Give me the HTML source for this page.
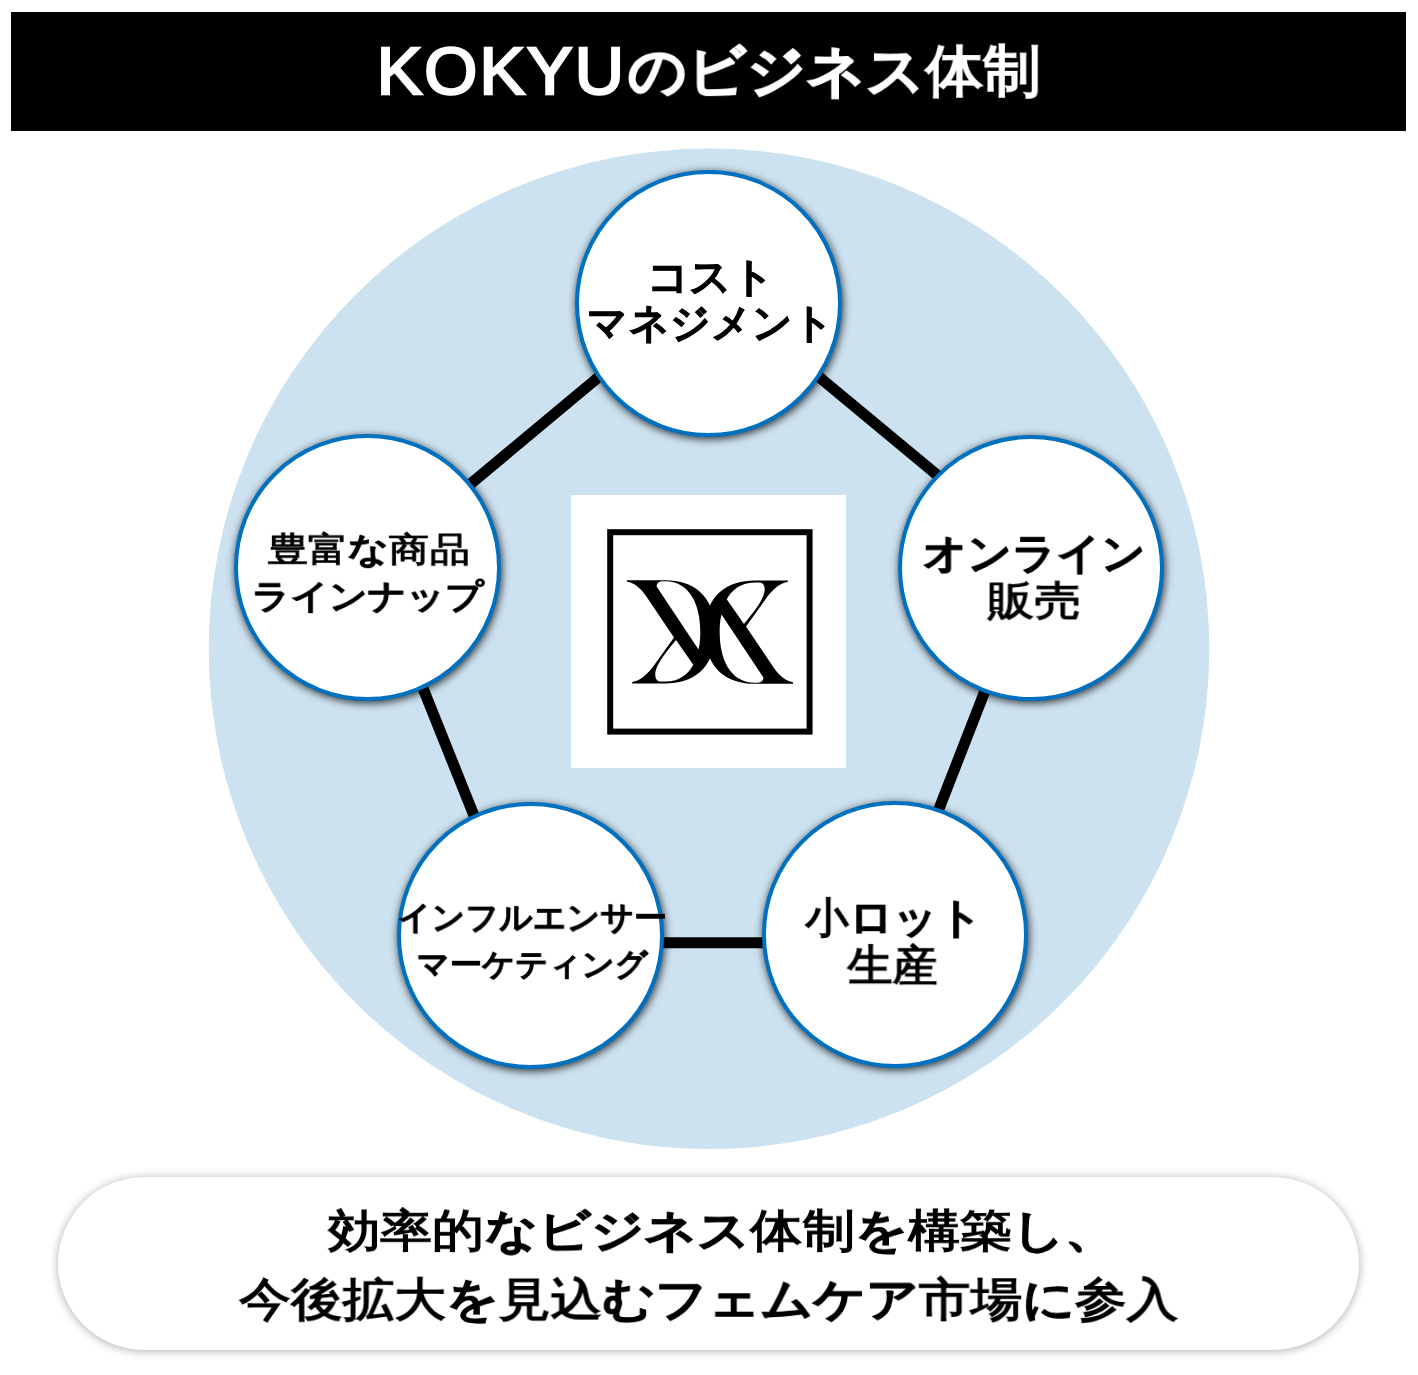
<!DOCTYPE html>
<html lang="ja">
<head>
<meta charset="utf-8">
<style>
html,body{margin:0;padding:0;}
body{width:1418px;height:1375px;position:relative;overflow:hidden;background:#fff;font-family:"Liberation Sans",sans-serif;}
.abs{position:absolute;}
#hdr{left:11.1px;top:12.4px;width:1395.3px;height:118.5px;background:#000;}
.t{position:absolute;left:0;top:0;white-space:nowrap;font-weight:bold;color:#000;line-height:1;transform-origin:0 0;-webkit-text-stroke:0.018em #000;will-change:transform;}
.k{font-weight:normal;-webkit-text-stroke-width:0.03em;}
#t0b .k{font-weight:normal;-webkit-text-stroke-width:0.036em;}
.shadow{position:absolute;border-radius:50%;background:#444;box-shadow:1px 2px 8px 2px rgba(0,0,0,0.8);}
.circ{position:absolute;border-radius:50%;background:#fff;box-sizing:border-box;border:4.5px solid #0070c0;}
#pill{left:58.3px;top:1176.8px;width:1301px;height:173.2px;border-radius:87px;background:#fff;box-shadow:0 1px 10px rgba(0,0,0,0.33);}
</style>
</head>
<body>
<div id="hdr" class="abs"></div>

<svg class="abs" style="left:0;top:0" width="1418" height="1375" viewBox="0 0 1418 1375">
  <circle cx="709" cy="648.8" r="500.3" fill="#cde2f0"/>
</svg>

<!-- shadows -->
<div class="shadow" style="left:577.10px;top:172.20px;width:262.7px;height:262.7px"></div>
<div class="shadow" style="left:236.25px;top:436.25px;width:262.7px;height:262.7px"></div>
<div class="shadow" style="left:899.75px;top:436.75px;width:262.7px;height:262.7px"></div>
<div class="shadow" style="left:399.25px;top:803.95px;width:262.7px;height:262.7px"></div>
<div class="shadow" style="left:763.65px;top:803.15px;width:262.7px;height:262.7px"></div>

<!-- lines -->
<svg class="abs" style="left:0;top:0" width="1418" height="1375" viewBox="0 0 1418 1375">
  <g stroke="#000" stroke-width="11" fill="none">
    <line x1="367.6" y1="569.8" x2="708.6" y2="285.4"/>
    <line x1="708.6" y1="285.3" x2="1031" y2="552.9"/>
    <line x1="374.7" y1="567.6" x2="521.9" y2="935.3"/>
    <line x1="1032.9" y1="568" x2="889.7" y2="935.3"/>
    <line x1="530" y1="942.7" x2="895" y2="942.7"/>
  </g>
</svg>

<!-- circles -->
<div class="circ" style="left:575.10px;top:170.20px;width:266.7px;height:266.7px"></div>
<div class="circ" style="left:234.25px;top:434.25px;width:266.7px;height:266.7px"></div>
<div class="circ" style="left:897.75px;top:434.75px;width:266.7px;height:266.7px"></div>
<div class="circ" style="left:397.25px;top:801.95px;width:266.7px;height:266.7px"></div>
<div class="circ" style="left:761.65px;top:801.15px;width:266.7px;height:266.7px"></div>

<!-- logo -->
<div class="abs" style="left:570.5px;top:495.3px;width:275.8px;height:272.4px;background:#fff"></div>
<svg class="abs" style="left:0;top:0" width="1418" height="1375" viewBox="0 0 1418 1375">
  <rect x="610.2" y="532.2" width="199.4" height="199.4" fill="none" stroke="#000" stroke-width="6"/>
  <path fill="#000" fill-rule="evenodd" d="M627,580.2 L665.4,580.2 C691.5,580.2 715.2,594 715.2,632 C715.2,670 691.5,683.4 665.4,683.4 L632.2,683.4 L632.2,681.9 C640,681.2 648,674 655,664 L674,637.5 L646.2,596.2 C641,589 635,582.8 627,581.8 Z M656.6,586.6 C656.6,583.5 658.5,581.5 662,581.3 L665,581.3 C690,581.3 700.3,605 700.3,632 C700.3,640 699.6,645 698.5,649.4 Z M676,640 L693.3,664.7 C689,673 680,681.6 665.4,681.6 L661,681.6 C657,681.6 655.3,678.5 655.3,675 C655.3,668 660,659 676,640 Z"/>
  <path fill="#000" fill-rule="evenodd" transform="rotate(180 710 632)" d="M627,580.2 L665.4,580.2 C691.5,580.2 715.2,594 715.2,632 C715.2,670 691.5,683.4 665.4,683.4 L632.2,683.4 L632.2,681.9 C640,681.2 648,674 655,664 L674,637.5 L646.2,596.2 C641,589 635,582.8 627,581.8 Z M656.6,586.6 C656.6,583.5 658.5,581.5 662,581.3 L665,581.3 C690,581.3 700.3,605 700.3,632 C700.3,640 699.6,645 698.5,649.4 Z M676,640 L693.3,664.7 C689,673 680,681.6 665.4,681.6 L661,681.6 C657,681.6 655.3,678.5 655.3,675 C655.3,668 660,659 676,640 Z"/>
</svg>

<div id="pill" class="abs"></div>

<!-- texts -->
<div class="t" id="t0a" style="color:#fff;font-size:64px;letter-spacing:2px;font-weight:normal;-webkit-text-stroke:2.4px #fff;transform:matrix(1.0656,0,0,1.0396,376.64,37.68);">KOKYU</div>
<div class="t" id="t0b" style="color:#fff;font-size:64px;-webkit-text-stroke:1.6px #fff;transform:matrix(0.9018,0,0,0.8727,627.90,42.90);">のビジネス<span class="k">体制</span></div>
<div class="t" id="t1" style="font-size:38px;transform:matrix(1.0951,0,0,1.0794,646.52,256.28);">コスト</div>
<div class="t" id="t2" style="font-size:38px;transform:matrix(1.0570,0,0,1.0914,587.29,302.53);">マネジメント</div>
<div class="t" id="t3" style="font-size:39px;transform:matrix(1.0289,0,0,0.8810,267.90,532.08);"><span class="k">豊富</span>な<span class="k">商品</span></div>
<div class="t" id="t4" style="font-size:39px;transform:matrix(0.9668,0,0,0.8725,251.80,579.17);">ラインナップ</div>
<div class="t" id="t5" style="font-size:44px;transform:matrix(0.9911,0,0,0.9634,922.76,532.31);">オンライン</div>
<div class="t" id="t6" style="font-size:44px;transform:matrix(1.0558,0,0,0.9227,987.60,580.50);"><span class="k">販売</span></div>
<div class="t" id="t7" style="font-size:33px;transform:matrix(0.9925,0,0,0.9871,397.91,900.94);">インフルエンサー</div>
<div class="t" id="t8" style="font-size:33px;transform:matrix(0.9767,0,0,0.9563,416.65,948.34);">マーケティング</div>
<div class="t" id="t9" style="font-size:43px;transform:matrix(1.0145,0,0,0.9810,805.20,896.80);"><span class="k">小</span>ロット</div>
<div class="t" id="t10" style="font-size:44px;transform:matrix(1.0295,0,0,0.9833,847.43,943.88);"><span class="k">生産</span></div>
<div class="t" id="t11" style="font-size:52px;transform:matrix(1.0033,0,0,0.8679,328.00,1207.87);"><span class="k">効率的</span>なビジネス<span class="k">体制</span>を<span class="k">構築</span>し、</div>
<div class="t" id="t12" style="font-size:52px;transform:matrix(0.9950,0,0,0.8836,239.10,1276.28);"><span class="k">今後拡大</span>を<span class="k">見込</span>むフェムケア<span class="k">市場</span>に<span class="k">参入</span></div>
</body>
</html>
